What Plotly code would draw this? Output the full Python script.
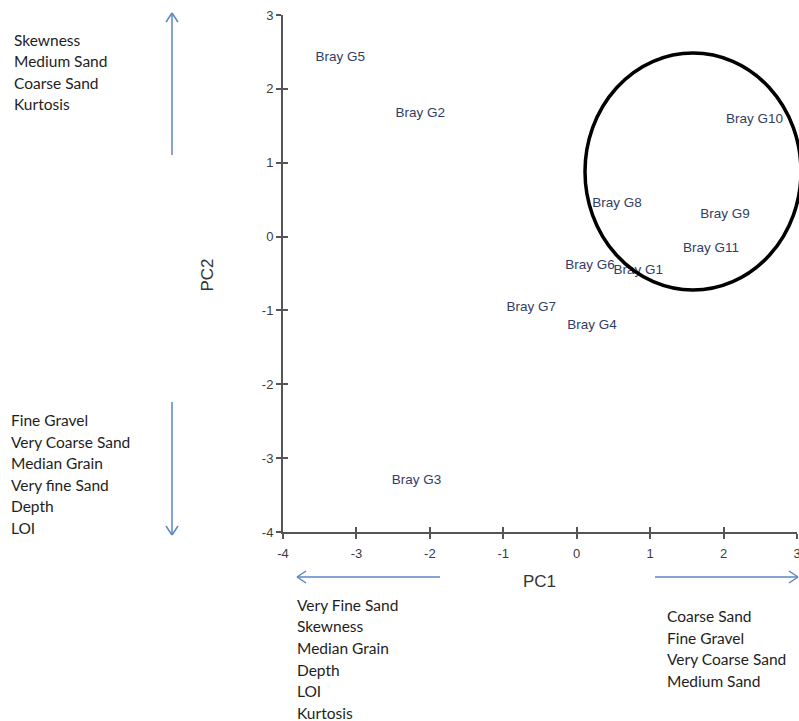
import plotly.graph_objects as go

# Sample scores on the first two principal components
samples = ["Bray G5", "Bray G2", "Bray G10", "Bray G8", "Bray G9", "Bray G11",
           "Bray G6", "Bray G1", "Bray G7", "Bray G4", "Bray G3"]
pc1 = [-3.22, -2.13, 2.42, 0.55, 2.02, 1.83, 0.18, 0.84, -0.62, 0.21, -2.18]
pc2 = [2.42, 1.67, 1.58, 0.44, 0.30, -0.16, -0.40, -0.46, -0.96, -1.21, -3.30]

tick_vals = [-4, -3, -2, -1, 0, 1, 2, 3]
tick_text = ["-4", "-3", "-2", "-1", "0", "1", "2", "3"]

# Variable loadings listed beside each axis direction
up_vars = ["Skewness", "Medium Sand", "Coarse Sand", "Kurtosis"]
down_vars = ["Fine Gravel", "Very Coarse Sand", "Median Grain", "Very fine Sand", "Depth", "LOI"]
left_vars = ["Very Fine Sand", "Skewness", "Median Grain", "Depth", "LOI", "Kurtosis"]
right_vars = ["Coarse Sand", "Fine Gravel", "Very Coarse Sand", "Medium Sand"]

W, H = 799, 721
L, R, T, B = 283, 2, 15, 189
PW, PH = W - L - R, H - T - B


def px(xp):
    return (xp - L) / PW


def py(yp):
    return (H - B - yp) / PH


fig = go.Figure()
fig.add_trace(go.Scatter(
    x=pc1, y=pc2, mode="text", text=samples,
    textposition="middle center",
    textfont=dict(family="Liberation Sans, Arial", size=13.5, color="#323c66"),
    showlegend=False, hoverinfo="text",
))
# invisible trace on the overlay axes so the crossing tick marks render
fig.add_trace(go.Scatter(x=[-4, 3], y=[-4, 3], mode="markers",
                         marker=dict(opacity=0), xaxis="x2", yaxis="y2",
                         showlegend=False, hoverinfo="skip"))

axis_common = dict(
    showgrid=False, zeroline=False, showline=True, linecolor="#555555",
    linewidth=2, tickcolor="#555555", tickwidth=2, automargin=False,
    tickvals=tick_vals, ticktext=tick_text, ticklabeloverflow="allow",
    tickfont=dict(family="Liberation Sans, Arial", size=13, color="#3c3c3c"),
)
overlay_common = dict(
    range=[-4, 3], ticks="inside", ticklen=5, showticklabels=False,
    showgrid=False, zeroline=False, tickvals=tick_vals, tickcolor="#555555",
    tickwidth=2, showline=False, automargin=False,
)

fig.update_layout(
    width=W, height=H,
    margin=dict(l=L, r=R, t=T, b=B, autoexpand=False),
    paper_bgcolor="white", plot_bgcolor="white",
    xaxis=dict(range=[-4, 3], ticks="outside", ticklen=5, ticklabelstandoff=3,
               **axis_common),
    yaxis=dict(range=[-4, 3], ticks="outside", ticklen=5, **axis_common),
    xaxis2=dict(overlaying="x", **overlay_common),
    yaxis2=dict(overlaying="y", **overlay_common),
)

# Axis titles
fig.add_annotation(x=px(539), y=py(593), xref="paper", yref="paper",
                   text="PC1", showarrow=False,
                   font=dict(family="Liberation Sans, Arial", size=17, color="#333333"))
fig.add_annotation(x=px(195), y=py(275), xref="paper", yref="paper",
                   text="PC2", showarrow=False, textangle=-90,
                   font=dict(family="Liberation Sans, Arial", size=17, color="#333333"))

# Cluster ellipse
fig.add_shape(type="circle", xref="paper", yref="paper",
              x0=px(585), x1=px(801), y0=py(290), y1=py(53),
              line=dict(color="black", width=3.5), layer="above")

arrow_col = "#5b87c5"


def arrow(x0, y0, x1, y1):
    # shaft
    fig.add_shape(type="line", xref="paper", yref="paper",
                  x0=px(x0), y0=py(y0), x1=px(x1), y1=py(y1),
                  line=dict(color=arrow_col, width=1.5))
    # open chevron head at (x1, y1)
    dx, dy = x1 - x0, y1 - y0
    n = (dx * dx + dy * dy) ** 0.5
    ux, uy = dx / n, dy / n
    hl, hw = 9, 6
    bx, by = x1 - ux * hl, y1 - uy * hl
    for s in (1, -1):
        fig.add_shape(type="line", xref="paper", yref="paper",
                      x0=px(bx - uy * hw * s), y0=py(by + ux * hw * s),
                      x1=px(x1), y1=py(y1),
                      line=dict(color=arrow_col, width=1.5))


arrow(172, 155, 172, 13)
arrow(172, 402, 172, 535)
arrow(440, 577, 297, 577)
arrow(655, 577, 798, 577)


def text_block(lines, x, y_first, step):
    for i, t in enumerate(lines):
        fig.add_annotation(x=px(x), y=py(y_first + i * step), xref="paper", yref="paper",
                           text=t, showarrow=False, xanchor="left", yanchor="middle",
                           font=dict(family="Lato, sans-serif", size=15.5, color="#1e1e1e"))


text_block(up_vars, 12, 39.5, 21.6)
text_block(down_vars, 9, 420, 21.5)
text_block(left_vars, 295, 604.5, 21.7)
text_block(right_vars, 665, 616, 21.7)

fig.write_html("out.html")
